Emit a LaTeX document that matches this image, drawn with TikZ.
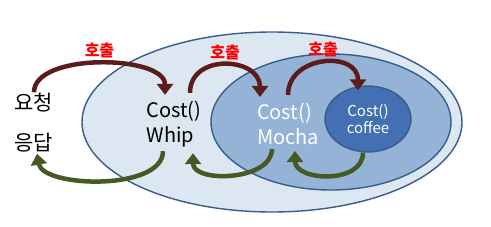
\documentclass[tikz,border=0pt]{standalone}
\usepackage{fontspec}
\setmainfont{Noto Sans CJK KR}
\usetikzlibrary{arrows.meta,shapes.geometric}

\definecolor{outerfill}{RGB}{221,231,242}
\definecolor{midfill}{RGB}{149,179,215}
\definecolor{corefill}{RGB}{66,112,178}
\definecolor{rimblue}{RGB}{56,93,138}
\definecolor{callred}{RGB}{92,28,28}
\definecolor{retgreen}{RGB}{70,88,36}

\begin{document}
\begin{tikzpicture}[
  x=1pt,y=-1pt,
  rim/.style={draw=rimblue,line width=1.4pt},
  word/.style={align=left,font=\fontsize{20}{25}\selectfont,inner sep=1pt},
  kor/.style={font=\fontsize{21}{24}\selectfont,inner sep=1pt},
  calllbl/.style={text=red,font=\fontsize{16}{18}\selectfont\bfseries,inner sep=1pt},
  callarr/.style={draw=callred,line width=4.5pt,-{Triangle[width=16pt,length=11pt]}},
  retarr/.style={draw=retgreen,line width=4.5pt,-{Triangle[width=16pt,length=11pt]}}
]
\useasboundingbox (0,0) rectangle (491,226);

% nested wrappers
\draw[rim,fill=outerfill] (272,122) ellipse [x radius=190,y radius=90];
\draw[rim,fill=midfill] (331,122) ellipse [x radius=120,y radius=68];
\node[rim,fill=corefill,ellipse,minimum width=86pt,minimum height=66pt,
      text=white,align=center,font=\fontsize{15}{17}\selectfont] (coffee) at (368,119) {Cost()\\coffee};

\node[kor] (req) at (34,103) {요청};
\node[kor] (res) at (34,143) {응답};
\node[word] (whip) at (174,124) {Cost()\\Whip};
\node[word,text=white] (mocha) at (288,124) {Cost()\\Mocha};

% calls go over the top
\draw[callarr] (req.north) .. controls +(0,-40) and +(0,-40) .. ([xshift=-9pt,yshift=5pt]whip.north)
  node[calllbl,midway,above=2pt] (call1) {호출};
\draw[callarr] ([xshift=16pt,yshift=7pt]whip.north) .. controls +(0,-40) and +(0,-40) .. ([xshift=-28pt,yshift=5pt]mocha.north)
  node[calllbl,midway,above=2pt] (call2) {호출};
\draw[callarr] ([yshift=7pt]mocha.north) .. controls +(0,-40) and +(0,-40) .. ([xshift=-10pt,yshift=-5pt]coffee.north)
  node[calllbl,midway,above=2pt] (call3) {호출};

% results come back underneath
\draw[retarr] ([xshift=-11pt,yshift=-3pt]whip.south) .. controls +(0,40) and +(6,34) .. ([xshift=3pt]res.south);
\draw[retarr] ([xshift=-16pt,yshift=-3pt]mocha.south) .. controls +(0,32) and +(0,30) .. ([xshift=19pt,yshift=-5pt]whip.south);
\draw[retarr] ([xshift=-5pt]coffee.south) .. controls +(0,32) and +(0,30) .. ([xshift=7pt,yshift=-5pt]mocha.south);
\end{tikzpicture}
\end{document}
